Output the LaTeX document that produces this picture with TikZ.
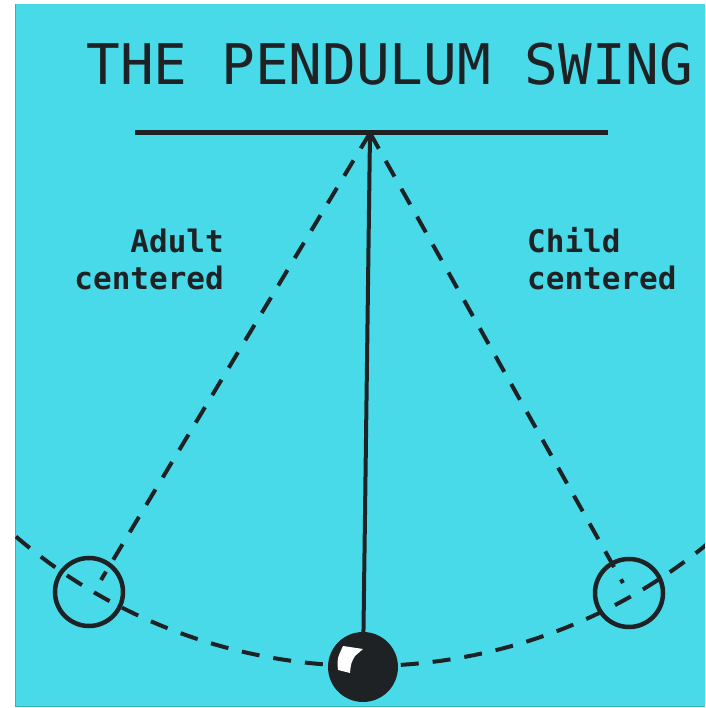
\documentclass[tikz,border=0pt]{standalone}
\usepackage{fontspec}
\setmonofont{DejaVu Sans Mono}
\definecolor{swingbg}{RGB}{72,218,233}
\definecolor{ink}{RGB}{30,34,36}
\begin{document}
\begin{tikzpicture}[x=1pt,y=1pt,
  dashline/.style={draw=ink,line width=4pt,dash pattern=on 18pt off 14pt},
  ball/.style={draw=ink,circle,line width=4.5pt,minimum size=68pt,inner sep=0pt},
  lab/.style={text=ink,inner sep=0pt,font=\ttfamily\bfseries\fontsize{31}{37}\selectfont}]
  \useasboundingbox (0,0) rectangle (705,708);
  \fill[swingbg] (15,2) rectangle (705,704);
  \draw[swingbg!80!black,line width=0.8pt] (15,2) -- (15,704) (15,2) -- (705,2);
  \node[text=ink,anchor=base,inner sep=0pt,font=\ttfamily\fontsize{56}{60}\selectfont] (title) at (390,623){THE PENDULUM SWING};
  \node[lab,anchor=base east,align=right] (adult) at (224,418){Adult\\centered};
  \node[lab,anchor=base west,align=left] (child) at (527,418){Child\\centered};
  \coordinate (pivot) at (370,575);
  \coordinate (barL) at (135,575);
  \coordinate (barR) at (608,575);
  \coordinate (arcC) at (366,580);
  \node[ball] (lball) at (89,116){};
  \node[ball] (rball) at (629,115){};
  \node[circle,fill=ink,minimum size=70pt,inner sep=0pt] (bob) at (363,41){};
  \coordinate (lend) at (101,128);
  \coordinate (rend) at (623,125);
  \begin{scope}
    \clip (15,2) rectangle (705,704);
    \draw[dashline] (arcC) ++(226:538pt) arc (226:314:538pt);
  \end{scope}
  \draw[dashline] (pivot) -- (lend);
  \draw[dashline] (pivot) -- (rend);
  \draw[ink,line width=5pt] (barL) -- (barR);
  \draw[ink,line width=4pt] (pivot) -- (bob);
  \fill[white] (343,62) -- (363,59) -- (355,52) .. controls (351,45) .. (350,35) -- (338,38) .. controls (337,49) .. (343,62);
\end{tikzpicture}
\end{document}
